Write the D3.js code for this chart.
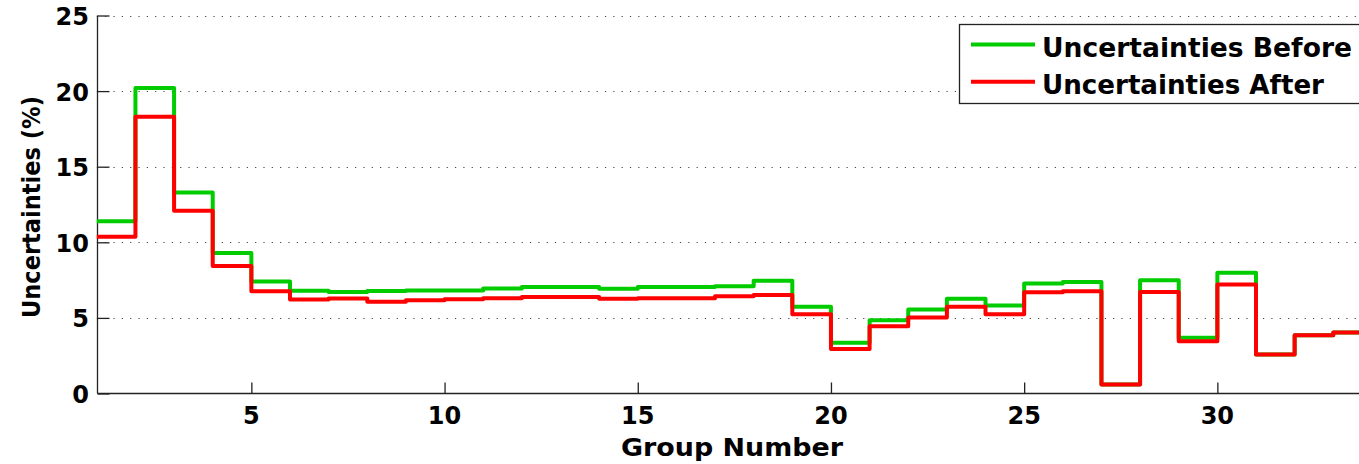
<!DOCTYPE html>
<html>
<head>
<meta charset="utf-8">
<script src="https://cdn.jsdelivr.net/npm/d3@7"></script>
<style>
  body { margin: 0; background: #fff; }
  svg { display: block; }
  text { font-family: 'DejaVu Sans', sans-serif; font-weight: bold; fill: #000; }
</style>
</head>
<body>
<svg width="1359" height="464"></svg>
<script>
var groups = d3.range(1, 34);
var before = [11.4, 20.2, 13.3, 9.3, 7.4, 6.8, 6.72, 6.78, 6.82, 6.82, 6.95, 7.05, 7.05, 6.92, 7.05, 7.05, 7.1, 7.45,
    5.73, 3.35, 4.85, 5.55, 6.26, 5.82, 7.27, 7.38, 0.6, 7.49, 3.68, 7.98, 2.58, 3.86, 4.03];
var after = [10.36, 18.3, 12.08, 8.44, 6.77, 6.22, 6.28, 6.06, 6.17, 6.24, 6.3, 6.39, 6.39, 6.26, 6.3, 6.3, 6.43, 6.52,
    5.24, 2.95, 4.45, 5.03, 5.73, 5.24, 6.7, 6.77, 0.6, 6.72, 3.46, 7.21, 2.58, 3.86, 4.03];
var xTicks = [5, 10, 15, 20, 25, 30];
var yTicks = [0, 5, 10, 15, 20, 25];
var seriesNames = ['Uncertainties Before', 'Uncertainties After'];
var seriesColors = ['#00cc00', '#ff0000'];

var svg = d3.select('svg');

var x = d3.scaleLinear().domain([1, 34]).range([96.8, 96.8 + 33 * 38.64]);
var y = d3.scaleLinear().domain([0, 25]).range([393.5, 15.5]);

// dotted grid
svg.append('g').selectAll('line')
    .data(yTicks.filter(function(d) { return d > 0; }))
    .enter().append('line')
    .attr('x1', x(1)).attr('x2', 1359)
    .attr('y1', function(d) { return Math.round(y(d)) + 0.5; })
    .attr('y2', function(d) { return Math.round(y(d)) + 0.5; })
    .attr('stroke', '#444')
    .attr('stroke-width', 1.1)
    .attr('stroke-dasharray', '1.2,7.13');

// axes, ticks inside
var xAxis = svg.append('g')
    .attr('transform', 'translate(0,' + 393.5 + ')')
    .call(d3.axisTop(x).tickValues(xTicks).tickSize(11).tickFormat(''));
var yAxis = svg.append('g')
    .attr('transform', 'translate(' + 97.5 + ',0)')
    .call(d3.axisRight(y).tickValues(yTicks).tickSize(12).tickFormat(''));
[xAxis, yAxis].forEach(function(a) {
    a.select('.domain').attr('stroke', '#222').attr('stroke-width', 1.3);
    a.selectAll('.tick line').attr('stroke', '#222').attr('stroke-width', 1.3);
});
xAxis.select('.domain').attr('d', 'M97.5,0H1359');
yAxis.select('.domain').attr('d', 'M0,393.5V15.5');

// tick labels
svg.append('g').selectAll('text')
    .data(xTicks).enter().append('text')
    .attr('x', function(d) { return x(d); })
    .attr('y', 424)
    .attr('text-anchor', 'middle')
    .style('font-size', '24px')
    .text(function(d) { return d; });
svg.append('g').selectAll('text')
    .data(yTicks).enter().append('text')
    .attr('x', 89)
    .attr('y', function(d) { return y(d) + 9.5; })
    .attr('text-anchor', 'end')
    .style('font-size', '24px')
    .text(function(d) { return d; });

// axis titles
svg.append('text')
    .attr('x', 732).attr('y', 456)
    .attr('text-anchor', 'middle')
    .attr('textLength', 222).attr('lengthAdjust', 'spacingAndGlyphs')
    .style('font-size', '25px')
    .text('Group Number');
svg.append('text')
    .attr('transform', 'translate(40,207) rotate(-90)')
    .attr('text-anchor', 'middle')
    .attr('textLength', 222).attr('lengthAdjust', 'spacingAndGlyphs')
    .style('font-size', '25px')
    .text('Uncertainties (%)');

// step lines
var line = d3.line()
    .x(function(d) { return x(d[0]); })
    .y(function(d) { return y(d[1]); })
    .curve(d3.curveStepAfter);

[before, after].forEach(function(vals, i) {
    var pts = groups.map(function(g, j) { return [g, vals[j]]; });
    pts.push([34, vals[vals.length - 1]]);
    svg.append('path')
        .datum(pts)
        .attr('d', line)
        .attr('fill', 'none')
        .attr('stroke', seriesColors[i])
        .attr('stroke-width', 4)
        .attr('stroke-linejoin', 'round');
});

// legend
var legend = svg.append('g');
legend.append('rect')
    .attr('x', 959.5).attr('y', 24.5)
    .attr('width', 420).attr('height', 79)
    .attr('fill', '#fff')
    .attr('stroke', '#222')
    .attr('stroke-width', 1.3);
seriesNames.forEach(function(name, i) {
    var ly = 44.5 + i * 37.3;
    legend.append('line')
        .attr('x1', 971).attr('x2', 1035)
        .attr('y1', ly).attr('y2', ly)
        .attr('stroke', seriesColors[i])
        .attr('stroke-width', 4);
    legend.append('text')
        .attr('x', 1042).attr('y', ly + 12.5)
        .attr('textLength', i === 0 ? 310 : 282).attr('lengthAdjust', 'spacingAndGlyphs')
        .style('font-size', '26px')
        .text(name);
});
</script>
</body>
</html>
